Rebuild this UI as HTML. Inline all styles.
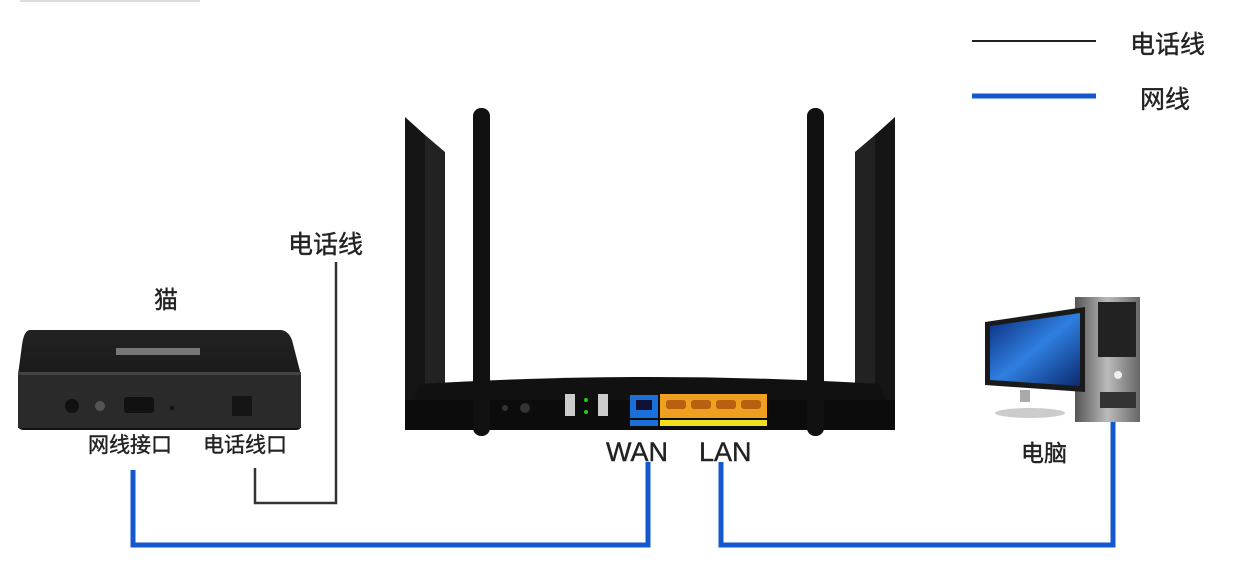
<!DOCTYPE html>
<html><head><meta charset="utf-8"><style>
body{margin:0;background:#fff;}
svg{display:block}
text{font-family:"Liberation Sans","Noto Sans CJK SC",sans-serif;fill:#222;stroke:#222;stroke-width:0.4}
</style></head><body>
<svg width="1236" height="588" viewBox="0 0 1236 588" xmlns="http://www.w3.org/2000/svg">
<defs>
<linearGradient id="scr" x1="0" y1="0" x2="1" y2="1"><stop offset="0" stop-color="#0a2a7a"/><stop offset="0.5" stop-color="#2f7fe0"/><stop offset="1" stop-color="#0a2a70"/></linearGradient>
<linearGradient id="tow" x1="0" y1="0" x2="1" y2="0"><stop offset="0" stop-color="#555"/><stop offset="0.5" stop-color="#bbb"/><stop offset="1" stop-color="#666"/></linearGradient>
<linearGradient id="mod" x1="0" y1="0" x2="0" y2="1"><stop offset="0" stop-color="#222"/><stop offset="1" stop-color="#111"/></linearGradient>
</defs>
<rect x="20" y="0" width="180" height="2" fill="#ddd"/>
<!-- legend -->
<line x1="972" y1="41" x2="1096" y2="41" stroke="#222" stroke-width="2"/>
<text x="1130" y="53" font-size="25">电话线</text>
<line x1="972" y1="96" x2="1096" y2="96" stroke="#1458d0" stroke-width="5"/>
<text x="1140" y="108" font-size="25">网线</text>
<!-- modem -->
<text x="154" y="308" font-size="24">猫</text>
<path d="M30 330 Q24 330 22 345 L18 375 L18 425 Q18 430 24 430 L296 430 Q301 430 301 425 L301 375 L292 340 Q288 330 280 330 Z" fill="url(#mod)"/>
<rect x="18" y="372" width="283" height="56" fill="#2a2a2a"/>
<rect x="18" y="372" width="283" height="3" fill="#444"/>
<rect x="116" y="348" width="84" height="7" fill="#777"/>
<circle cx="72" cy="406" r="7" fill="#111"/>
<circle cx="100" cy="406" r="5" fill="#555"/>
<rect x="124" y="397" width="30" height="16" rx="3" fill="#111"/>
<circle cx="172" cy="408" r="2" fill="#111"/>
<rect x="232" y="396" width="20" height="20" fill="#151515"/>
<text x="88" y="452" font-size="21">网线接口</text>
<text x="203" y="452" font-size="21">电话线口</text>
<!-- phone line -->
<polyline points="255,468 255,503 336,503 336,262" fill="none" stroke="#333" stroke-width="2.5"/>
<text x="288" y="253" font-size="25">电话线</text>
<!-- blue lines -->
<polyline points="133,470 133,545 648,545 648,462" fill="none" stroke="#1458d0" stroke-width="5"/>
<polyline points="721,462 721,545 1113,545 1113,422" fill="none" stroke="#1458d0" stroke-width="5"/>
<!-- router -->
<polygon points="405,117 425,135 428,430 405,430" fill="#151515"/>
<polygon points="425,135 445,152 445,430 425,430" fill="#222"/>
<polygon points="895,117 875,135 872,430 895,430" fill="#151515"/>
<polygon points="875,135 855,152 855,430 875,430" fill="#222"/>
<path d="M420 384 Q650 370 880 384 L895 428 L405 428 Z" fill="#111"/>
<rect x="405" y="400" width="490" height="30" fill="#0c0c0c"/>
<rect x="473" y="108" width="17" height="328" rx="8" fill="#111"/>
<rect x="807" y="108" width="17" height="328" rx="8" fill="#111"/>
<circle cx="505" cy="408" r="3" fill="#333"/>
<circle cx="525" cy="408" r="5" fill="#333"/>
<rect x="565" y="394" width="10" height="22" fill="#ccc"/>
<rect x="598" y="394" width="10" height="22" fill="#ccc"/>
<circle cx="586" cy="400" r="2" fill="#2c2"/><circle cx="586" cy="412" r="2" fill="#2c2"/>
<rect x="630" y="395" width="28" height="23" fill="#1a6fd8"/>
<rect x="636" y="400" width="16" height="10" fill="#113"/>
<rect x="660" y="394" width="107" height="24" fill="#f0a020"/>
<rect x="666" y="400" width="20" height="9" rx="3" fill="#b86010"/>
<rect x="691" y="400" width="20" height="9" rx="3" fill="#b86010"/>
<rect x="716" y="400" width="20" height="9" rx="3" fill="#b86010"/>
<rect x="741" y="400" width="20" height="9" rx="3" fill="#b86010"/>
<rect x="630" y="420" width="28" height="6" fill="#1a6fd8"/>
<rect x="660" y="420" width="107" height="6" fill="#f0e020"/>
<text x="606" y="461" font-size="27">WAN</text>
<text x="699" y="461" font-size="27">LAN</text>
<!-- computer -->
<rect x="1075" y="297" width="65" height="125" fill="url(#tow)"/>
<rect x="1098" y="302" width="38" height="55" fill="#222"/>
<rect x="1100" y="392" width="36" height="16" fill="#333"/>
<circle cx="1118" cy="375" r="4" fill="#eee"/>
<polygon points="985,322 1085,307 1085,392 985,385" fill="#1a1a1a"/>
<polygon points="990,326 1080,313 1080,386 990,380" fill="url(#scr)"/>
<rect x="1020" y="390" width="10" height="12" fill="#aaa"/>
<ellipse cx="1030" cy="413" rx="35" ry="5" fill="#ccc"/>
<text x="1021" y="461" font-size="23">电脑</text>
</svg>
</body></html>
